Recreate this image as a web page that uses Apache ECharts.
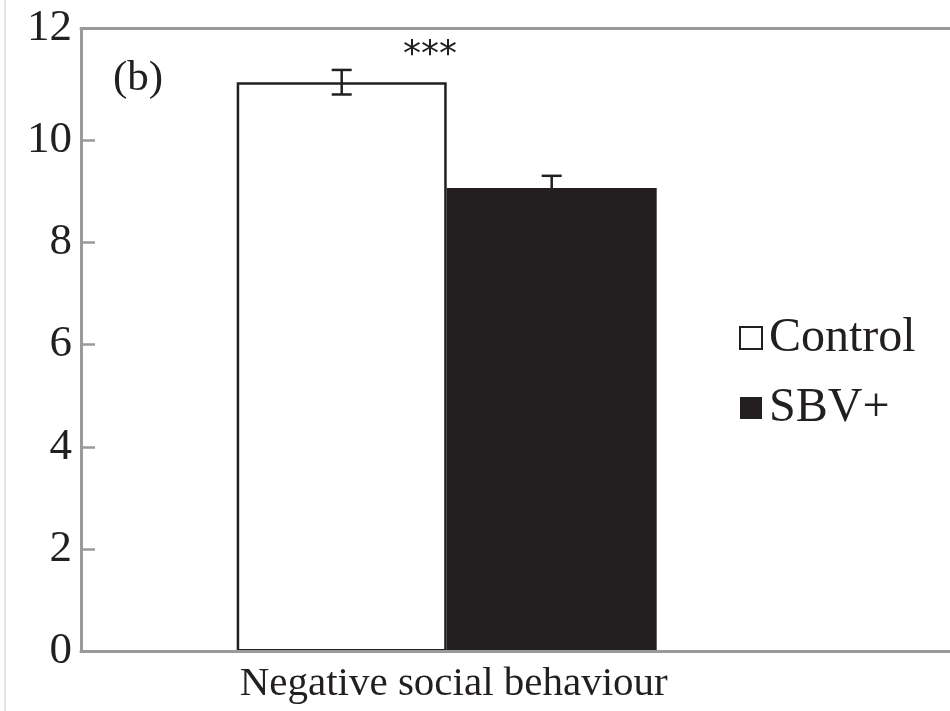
<!DOCTYPE html>
<html>
<head>
<meta charset="utf-8">
<script src="https://cdn.jsdelivr.net/npm/echarts@6/dist/echarts.min.js"></script>
<style>
  html, body { margin: 0; padding: 0; background: #fff; }
  #chart { width: 950px; height: 711px; }
</style>
</head>
<body>
<div id="chart"></div>
<script>
// Data
const categories = ['Negative social behaviour'];
const seriesNames = ['Control', 'SBV+'];
const controlMean = [11.13];
const controlErr = [0.24];
const sbvMean = [9.06];
const sbvErr = [0.24];
const yTickLabels = [0, 2, 4, 6, 8, 10, 12];
const panelLabel = '(b)';
const significance = '***';

// Styling
const INK = '#231f20';
const AXIS = '#9a9a9a';
const SERIF = '"Liberation Serif", "Times New Roman", serif';
const BAR_W = 210;
const Y_TOP = 12.18;   // value at the top edge of the frame (labelled 12)

const chart = echarts.init(document.getElementById('chart'));

const errorData = [
  [0, controlMean[0], controlErr[0], 0],
  [0, sbvMean[0], sbvErr[0], 1]
];

const frameAxis = (position) => ({
  gridIndex: 0, type: 'value', min: 0, max: 1, position: position,
  axisLine: { show: true, lineStyle: { color: AXIS, width: 3 } },
  axisTick: { show: false }, axisLabel: { show: false }, splitLine: { show: false },
  z: 10
});

chart.setOption({
  animation: false,
  backgroundColor: '#fff',
  grid: [
    { left: 81, right: 0, top: 28.5, bottom: 59.5 },
    { left: 81, right: 137.6, top: 28.5, bottom: 59.5 }
  ],
  xAxis: [
    frameAxis('bottom'),
    frameAxis('top'),
    {
      gridIndex: 1, type: 'category', data: categories,
      axisLine: { show: false }, axisTick: { show: false },
      axisLabel: {
        fontFamily: SERIF, fontSize: 41, color: INK, margin: 12,
        padding: [0, 0, 0, 14]
      }
    }
  ],
  yAxis: [
    {
      gridIndex: 0, type: 'value', min: 0, max: Y_TOP,
      axisLine: { show: true, lineStyle: { color: AXIS, width: 3 } },
      axisTick: {
        show: true, inside: true, length: 14,
        lineStyle: { color: AXIS, width: 2.5 },
        customValues: yTickLabels.filter(v => v < 12)
      },
      axisLabel: {
        fontFamily: SERIF, fontSize: 45, color: INK, margin: 9,
        customValues: yTickLabels.map(v => (v === 12 ? Y_TOP : v)),
        formatter: v => String(Math.round(v))
      },
      splitLine: { show: false },
      z: 10
    },
    { gridIndex: 1, type: 'value', min: 0, max: Y_TOP, show: false }
  ],
  legend: {
    data: seriesNames,
    orient: 'vertical',
    left: 739, top: 314,
    padding: 0,
    itemWidth: 22, itemHeight: 22, itemGap: 22,
    icon: 'rect',
    selectedMode: false,
    textStyle: { fontFamily: SERIF, fontSize: 48, color: INK, lineHeight: 46, padding: [0, 0, 0, 2] }
  },
  series: [
    {
      name: seriesNames[0], type: 'bar', xAxisIndex: 2, yAxisIndex: 1,
      data: controlMean, barWidth: BAR_W, barGap: '0%',
      itemStyle: { color: '#fff', borderColor: INK, borderWidth: 2.5 }
    },
    {
      name: seriesNames[1], type: 'bar', xAxisIndex: 2, yAxisIndex: 1,
      data: sbvMean, barWidth: BAR_W, barGap: '0%',
      itemStyle: { color: INK, borderColor: INK, borderWidth: 0 }
    },
    {
      type: 'custom', xAxisIndex: 2, yAxisIndex: 1, z: 5,
      data: errorData,
      renderItem: (params, api) => {
        const mean = api.value(1), err = api.value(2), idx = api.value(3);
        const off = (idx === 0 ? -1 : 1) * BAR_W / 2;
        const hi = api.coord([api.value(0), mean + err]);
        const lo = api.coord([api.value(0), mean - err]);
        const x = hi[0] + off;
        const cap = 10;
        const style = { stroke: INK, lineWidth: 2.5, fill: null };
        return {
          type: 'group',
          children: [
            { type: 'line', shape: { x1: x, y1: hi[1], x2: x, y2: lo[1] }, style },
            { type: 'line', shape: { x1: x - cap, y1: hi[1], x2: x + cap, y2: hi[1] }, style },
            { type: 'line', shape: { x1: x - cap, y1: lo[1], x2: x + cap, y2: lo[1] }, style }
          ]
        };
      }
    }
  ],
  graphic: [
    {
      type: 'line', shape: { x1: 5, y1: 0, x2: 5, y2: 711 },
      style: { stroke: '#dcdcdc', lineWidth: 1.5 }
    },
    {
      type: 'text', x: 138, y: 78.5,
      style: { text: panelLabel, font: '43px "Liberation Serif"', fill: INK, textAlign: 'center', textVerticalAlign: 'middle' }
    },
    {
      type: 'text', x: 430, y: 55.5,
      style: { text: significance, font: '36px "DejaVu Sans"', fill: INK, textAlign: 'center', textVerticalAlign: 'middle' }
    }
  ]
});
</script>
</body>
</html>
